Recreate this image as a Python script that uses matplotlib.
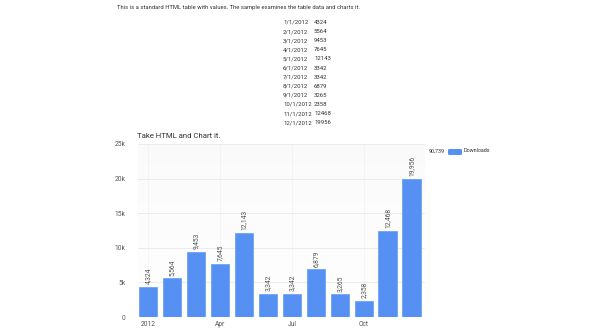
import matplotlib
matplotlib.use("Agg")
import matplotlib.pyplot as plt
from matplotlib.patches import FancyBboxPatch
import numpy as np

plt.rcParams['font.family'] = ['Roboto', 'DejaVu Sans']

dates = ["1/1/2012", "2/1/2012", "3/1/2012", "4/1/2012", "5/1/2012", "6/1/2012",
         "7/1/2012", "8/1/2012", "9/1/2012", "10/1/2012", "11/1/2012", "12/1/2012"]
downloads = [4324, 5564, 9453, 7645, 12143, 3342, 3342, 6879, 3265, 2358, 12468, 19956]
tick_pos = [0, 3, 6, 9]
tick_labels = ["2012", "Apr", "Jul", "Oct"]
y_ticks = [0, 5000, 10000, 15000, 20000, 25000]
y_labels = ["0", "5k", "10k", "15k", "20k", "25k"]
series_name = "Downloads"
title = "Take HTML and Chart it."
intro = "This is a standard HTML table with values. The sample examines the table data and charts it."

W, H = 604, 332
fig = plt.figure(figsize=(W / 100, H / 100), dpi=100)
fig.patch.set_facecolor("white")

def px(x, y):
    return x / W, 1 - y / H

# Intro text and table
fig.text(*px(117, 8), intro, fontsize=4.25, color="#333333", va="center", ha="left")
for i, (d, v) in enumerate(zip(dates, downloads)):
    y = 22.5 + i * 9.1
    fig.text(*px(283, y), d, fontsize=4.3, color="#333333", va="center", ha="left")
    fig.text(*px(314, y), str(v), fontsize=4.3, color="#333333", va="center", ha="left")

# Chart
ax = fig.add_axes([138 / W, 15 / H, (425 - 138) / W, (317 - 144) / H])
ax.set_facecolor("white")
grad = np.linspace(0.982, 1.0, 256).reshape(-1, 1)
ax.imshow(np.dstack([grad, grad, grad]), extent=[-0.42, 11.55, 0, 25000],
          aspect="auto", origin="upper", zorder=0)

x = np.arange(len(downloads))
ax.bar(x, downloads, width=0.78, color="#5590f2", edgecolor="#6fa2f5",
       linewidth=0.6, zorder=3)
for xi, v in zip(x, downloads):
    ax.annotate(f"{v:,}", (xi, v), xytext=(0, 2), textcoords="offset points",
                rotation=90, ha="center", va="bottom", fontsize=4.9, color="#555555",
                zorder=4)

ax.set_xlim(-0.42, 11.55)
ax.set_ylim(0, 25000)
ax.set_yticks(y_ticks)
ax.set_yticklabels(y_labels)
ax.set_xticks(tick_pos)
ax.set_xticklabels(tick_labels)
ax.tick_params(axis="both", length=0, labelsize=4.8, colors="#555555")
ax.tick_params(axis="y", pad=9)
ax.tick_params(axis="x", pad=3)
ax.grid(axis="y", color="#ebebeb", linewidth=0.7, zorder=1)
ax.grid(axis="x", color="#ececec", linewidth=0.5, linestyle=(0, (2, 1)), zorder=1)
for s in ax.spines.values():
    s.set_visible(False)
ax.axhline(0, color="#e0e0e0", linewidth=0.8, zorder=2)

fig.text(*px(137, 136), title, fontsize=5.6, color="#333333", va="center", ha="left")

# legend
fig.text(*px(429, 151), f"{sum(downloads):,}", fontsize=3.9, color="#333333",
         va="center", ha="left")
fig.patches.append(FancyBboxPatch(px(448, 155), 14 / W, 6 / H,
                                  boxstyle="round,pad=0,rounding_size=0.003",
                                  transform=fig.transFigure, facecolor="#5590f2",
                                  edgecolor="none", figure=fig))
fig.text(*px(464, 151), series_name, fontsize=3.9, color="#333333",
         va="center", ha="left")

fig.savefig("out.png", dpi=100, facecolor="white")
